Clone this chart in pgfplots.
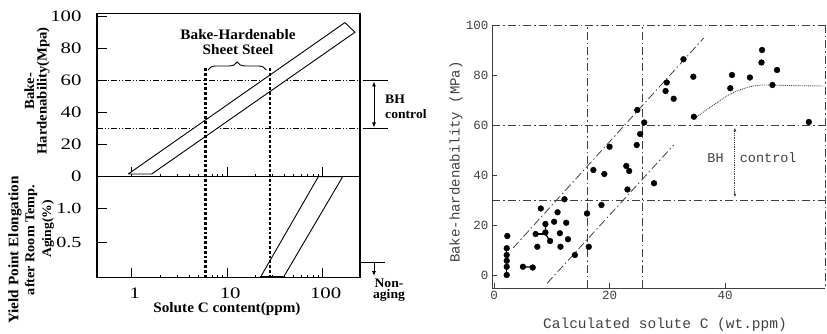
\documentclass[border=0pt]{standalone}
\usepackage{pgfplots}
\pgfplotsset{compat=1.18}
\usepackage{fontspec}
\setmainfont{Liberation Serif}
\newfontfamily\tickf[FakeStretch=1.3]{Liberation Serif}
\newfontfamily\lblf[FakeStretch=1.05]{Liberation Serif}
\newfontfamily\monof{Liberation Mono}
\usetikzlibrary{decorations.pathreplacing,arrows.meta}
\definecolor{scan}{gray}{0.25}
\tikzset{
  ddot/.style={line width=0.8pt, dash pattern=on 6pt off 2pt on 1pt off 2pt on 1pt off 2pt},
  bhdot/.style={line width=2.8pt, dash pattern=on 2.8pt off 2pt},
  sdash/.style={line width=0.8pt, scan, dash pattern=on 8pt off 3pt on 1.5pt off 3pt},
}
\begin{document}
\begin{tikzpicture}
\useasboundingbox (0pt,0pt) rectangle (827pt,-334pt);

% ---------------- left upper: bake hardenability
\begin{axis}[at={(97pt,-176.7pt)}, anchor=south west, scale only axis,
  width=263pt, height=163.4pt,
  xmode=log, xmin=0.433, xmax=246, ymin=0, ymax=101.8,
  xtick={1,10,100}, xticklabels={}, minor xtick={},
  ytick={0,20,40,60,80,100}, yticklabels={0,20,40,60,80,100},
  xtick pos=bottom, ytick pos=left,
  tick align=inside, major tick length=10pt,
  every tick/.style={black, line width=0.9pt},
  axis line style={line width=1.1pt},
  yticklabel style={font=\tickf\fontsize{16}{16}\selectfont, xshift=-12pt},
  /pgf/number format/assume math mode=true,
]
\addplot[ddot, black] coordinates {(0.433,60) (246,60)};
\addplot[ddot, black] coordinates {(0.433,30) (246,30)};
\addplot[black, line width=0.9pt, fill=white] coordinates {(0.92,1.7) (1.62,1.7) (218,90) (171,96) (0.92,1.7)};
\addplot[bhdot] coordinates {(5.96,0) (5.96,67.5)};
\addplot[bhdot] coordinates {(28.1,0) (28.1,67.5)};
\draw[decorate, decoration={brace, amplitude=8pt}, line width=0.9pt] (axis cs:6.3,66.5) -- (axis cs:25.7,66.5);
\end{axis}

% ---------------- left lower: yield point elongation
\begin{axis}[at={(97pt,-277.5pt)}, anchor=south west, scale only axis,
  width=263pt, height=100.8pt,
  xmode=log, xmin=0.433, xmax=246, ymin=0, ymax=1.457,
  xtick={1,10,100}, xticklabels={1,10,100}, minor xtick={},
  ytick={0.5,1.0}, yticklabels={0.5,1.0},
  xtick pos=bottom, ytick pos=left,
  tick align=inside, major tick length=10pt,
  every tick/.style={black, line width=0.9pt},
  axis line style={line width=1.1pt},
  yticklabel style={font=\tickf\fontsize{15.5}{15.5}\selectfont, xshift=-12pt},
  xticklabel style={font=\tickf\fontsize{16}{16}\selectfont, yshift=-7pt, xshift=3pt},
  /pgf/number format/assume math mode=true,
]
\addplot[black, line width=0.9pt] coordinates {(22.2,0) (38.7,0) (162,1.457) (90,1.457) (22.2,0)};
\addplot[black, line width=1.8pt] coordinates {(22.2,0.01) (38.7,0.01)};
\addplot[bhdot] coordinates {(5.96,0) (5.96,1.457)};
\addplot[bhdot] coordinates {(28.1,0) (28.1,1.457)};
\end{axis}

% left annotations
\draw[line width=0.9pt] (363pt,-80.4pt) -- (388pt,-80.4pt);
\draw[line width=0.9pt] (363pt,-128.5pt) -- (388pt,-128.5pt);
\draw[{Latex[length=5pt,width=4pt]}-{Latex[length=5pt,width=4pt]}, line width=0.8pt] (374pt,-81.5pt) -- (374pt,-127.5pt);
\node[anchor=west, align=left, inner sep=0pt, font=\lblf\bfseries\fontsize{13}{15}\selectfont] at (385pt,-107pt) {BH\\control};
\draw[line width=0.9pt] (360pt,-262pt) -- (385pt,-262pt);
\draw[-{Latex[length=5pt,width=4pt]}, line width=0.8pt] (374pt,-262pt) -- (374pt,-276pt);
\node[align=center, inner sep=0pt, font=\lblf\bfseries\fontsize{13}{11.5}\selectfont] at (389pt,-290pt) {Non-\\aging};
\node[align=center, inner sep=0pt, font=\lblf\bfseries\fontsize{14.5}{15}\selectfont] at (238pt,-42pt) {Bake-Hardenable\\Sheet Steel};
\node[inner sep=0pt, font=\lblf\bfseries\fontsize{14.5}{15}\selectfont] at (227pt,-309pt) {Solute C content(ppm)};
\node[rotate=90, align=center, inner sep=0pt, font=\lblf\bfseries\fontsize{14}{12.5}\selectfont] at (37pt,-91pt) {Bake-\\Hardenability(Mpa)};
\node[rotate=90, inner sep=0pt, font=\lblf\bfseries\fontsize{14.5}{15}\selectfont] at (15pt,-250pt) {Yield Point Elongation};
\node[rotate=90, inner sep=0pt, font=\lblf\bfseries\fontsize{13.5}{15}\selectfont] at (31pt,-240pt) {after Room Temp.};
\node[rotate=90, inner sep=0pt, font=\lblf\bfseries\fontsize{13}{15}\selectfont] at (48pt,-229pt) {Aging(\%)};

% ---------------- right: scatter
\begin{axis}[at={(492pt,-288pt)}, anchor=south west, scale only axis,
  width=333pt, height=263pt,
  xmin=-0.35, xmax=57.3, ymin=-5.2, ymax=100,
  axis lines*=left, axis line style={-, line width=0.9pt, scan},
  xtick={0,20,40}, xticklabels={0,20,40},
  ytick={0,20,40,60,80,100}, yticklabels={0,20,40,60,80,100},
  tick align=inside, major tick length=5pt,
  every tick/.style={scan, line width=0.7pt},
  ticklabel style={font=\monof\fontsize{12.5}{12.5}\selectfont, text=scan},
  /pgf/number format/assume math mode=true,
  clip=false,
]
\draw[sdash] (rel axis cs:0,1) -- (rel axis cs:1,1);
\draw[sdash, line width=0.5pt] (rel axis cs:1,1) -- (rel axis cs:1,0);
\addplot[sdash] coordinates {(-0.35,60) (57.3,60)};
\addplot[sdash] coordinates {(-0.35,30) (57.3,30)};
\addplot[sdash] coordinates {(16.1,-5.2) (16.1,100)};
\addplot[sdash] coordinates {(25.6,-5.2) (25.6,100)};
\addplot[scan, line width=0.8pt, densely dotted, {Latex[length=4pt,width=3pt]}-{Latex[length=4pt,width=3pt]}] coordinates {(41.7,59) (41.7,31)};
\addplot[sdash] coordinates {(3.3,10.8) (36.3,94.8)};
\addplot[sdash] coordinates {(9.2,-3.3) (31.1,52)};
\addplot[scan, line width=0.9pt, densely dotted, smooth] coordinates {(35.1,63.3) (39.7,70.7) (41.7,73.3) (44.3,75.3) (46.6,76) (50.6,75.8) (57,75.6)};
% connecting segments
\addplot[black, line width=1.2pt] coordinates {(2.2,0) (2.2,10.7)};
\addplot[black, line width=1.2pt] coordinates {(5.1,3.3) (6.7,3.1)};
\addplot[black, line width=1.2pt] coordinates {(8.9,20.4) (8.9,16.4) (9.7,13.6)};
\addplot[black, line width=1.2pt] coordinates {(7.2,16.4) (8.9,16.4)};
\addplot[black, line width=1.2pt] coordinates {(22.9,43.6) (23.4,41.6)};
\addplot[only marks, mark=*, mark size=2.9pt, black] coordinates {
(24.8,66) (26,61) (25.3,56.4) (20,51.3) (24.7,52)
(32.8,86.3) (29.9,77) (29.7,73.6) (31.1,70.5) (34.5,79.3) (34.6,63.3)
(41.2,80) (40.9,74.7) (44.3,79) (46.4,90) (46.3,85) (49,82) (48.2,76) (54.5,61.2)
(17.2,42) (19.1,40.4) (22.9,43.6) (23.4,41.6) (27.7,36.7)
(23.1,34.2) (18.6,28) (12.2,30.3) (8.1,26.6) (11.0,25.1) (16.1,24.6)
(8.9,20.4) (10.4,21.3) (12.5,20.9) (7.2,16.4) (8.9,17.0) (9.7,13.6) (11.4,16.7) (12.8,14.3)
(2.3,15.6) (7.5,11.3) (11.5,11.3) (16.4,11.3) (14.0,8)
(2.2,10.7) (2.2,8) (2.2,5.7) (2.2,3.3) (2.2,0)
(5.0,3.3) (6.7,3.0)
};
\end{axis}
\node[inner sep=0pt, text=scan, font=\monof\fontsize{13.5}{13.5}\selectfont] at (752pt,-158pt) {BH~~control};
\node[rotate=90, inner sep=0pt, text=scan, font=\monof\fontsize{14}{14}\selectfont] at (456pt,-162pt) {Bake-hardenability (MPa)};
\node[inner sep=0pt, text=scan, font=\monof\fontsize{14.5}{14.5}\selectfont] at (665pt,-325pt) {Calculated solute C (wt.ppm)};
\end{tikzpicture}
\end{document}
